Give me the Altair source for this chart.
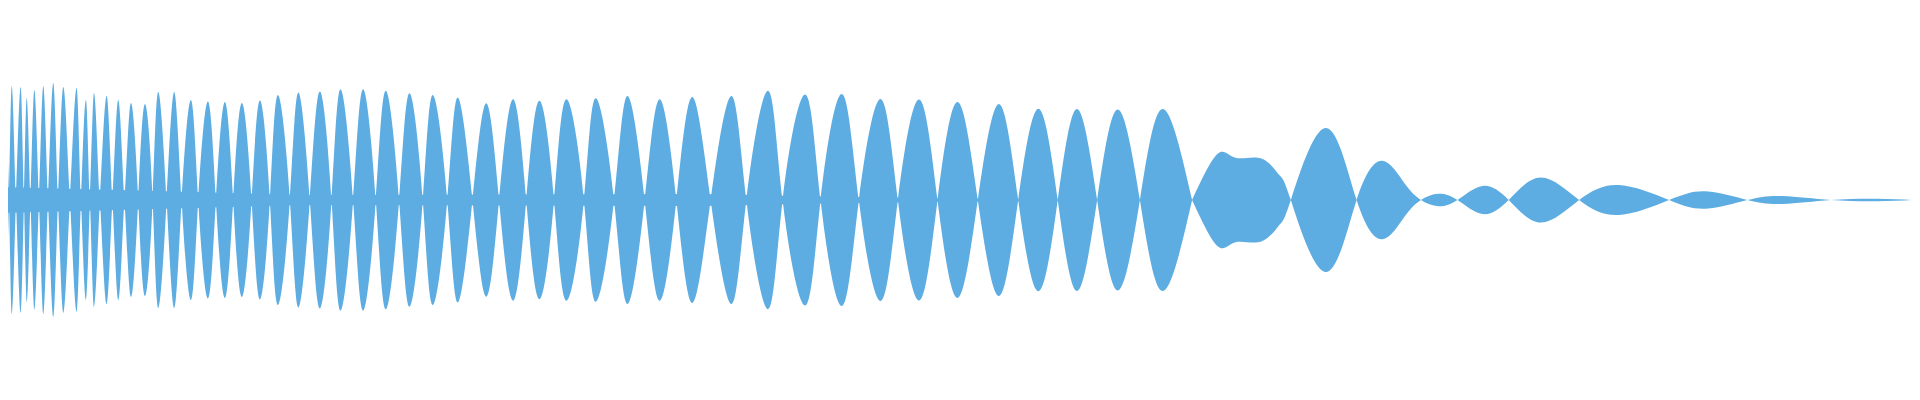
import altair as alt
import pandas as pd

# zero crossings of the envelope (time units)
neck_x = [0, 4, 9, 16, 24, 30.5, 39, 48, 58, 70, 81, 90, 100, 112.5, 124.5,
          138.3, 152.7, 166.7, 181.7, 198.3, 216, 233.3, 251.7, 270, 290, 310,
          331.7, 353.3, 376, 399.3, 423, 447.5, 472.7, 499.3, 526.5, 554.3,
          584.2, 614.3, 645, 676.7, 711, 746.7, 783, 821, 859.3, 898.3, 938,
          978.3, 1018.7, 1058.3, 1097.7, 1140.5, 1192.7, 1291.5, 1357.3,
          1421.7, 1458.3, 1509.5, 1580, 1670, 1748.3, 1832, 1913]

# one peak per lobe
peak_x = [2, 6, 11.7, 20.7, 26.7, 34.3, 43.3, 53.3, 63.3, 76.7, 86, 94, 106.7,
          118.3, 131, 145, 158.3, 174.3, 191, 208, 225, 242, 260, 278, 298.5,
          320, 340.7, 363.3, 386, 409.7, 433, 458, 486.5, 513.3, 539.7, 566.7,
          596, 627.8, 660, 692.5, 731.7, 768.3, 805.5, 842.2, 881, 919.5, 958,
          999.5, 1039, 1077.5, 1118.3, 1163.3, 1218, 1326, 1383, 1439, 1483.3,
          1541.7, 1620, 1706.7, 1783.3, 1878]
peak_amp = [72, 83, 114, 113, 102, 110, 114, 117, 113, 112, 100, 107, 104,
            100, 97, 96, 108, 108, 100, 98.5, 98, 97, 99.5, 105, 107.5,
            108.5, 110.7, 110.7, 109.3, 106.7, 105, 102.5, 96.7, 100.8, 99.2,
            100.7, 101.7, 104, 100.8, 103, 104, 109.2, 105.5, 106, 101, 100.5,
            98, 96, 91.2, 91, 90.5, 91, 46, 72, 39.2, 6.2, 14, 22.5, 15, 8.7,
            4, 1.2]

# extra shape points inside a few irregular lobes
extra_x = [1236, 1262, 1280, 1405]
extra_amp = [42.3, 41.5, 25, 17]

# residual band around the centre line
floor_x = [0, 120, 300, 700, 850, 1000, 1100, 1913]
floor_amp = [13, 10, 5, 6, 3, 1, 0, 0]

# section boundaries (dense start / regular lobes / decaying tail)
SPLIT_A = 138.3
SPLIT_B = 1192.7

rows = []
for i in range(len(peak_x)):
    sign = 1 if i % 2 == 0 else -1
    lo, hi = neck_x[i], neck_x[i + 1]
    rows.append((lo, 0.0))
    pts = [(peak_x[i], peak_amp[i])]
    pts += [(ex, ea) for ex, ea in zip(extra_x, extra_amp) if lo < ex < hi]
    for px, pa in sorted(pts):
        rows.append((px, sign * pa))
rows.append((neck_x[-1], 0.0))

env = pd.DataFrame(rows, columns=["t", "v"])
env["neg"] = -env["v"]

floor = pd.DataFrame({"t": floor_x, "v": floor_amp})
floor["neg"] = -floor["v"]

COLOR = "#5DADE2"
xs = alt.Scale(domain=[8, 1913], nice=False, zero=False)
ys = alt.Scale(domain=[-192, 192], nice=False)


def area(data, interp):
    return alt.Chart(data).mark_area(
        interpolate=interp, color=COLOR, clip=True, opacity=1
    ).encode(
        x=alt.X("t:Q", scale=xs, axis=None),
        y=alt.Y("v:Q", scale=ys, axis=None),
        y2=alt.Y2("neg"),
    )


dense = env[env["t"] <= SPLIT_A]
middle = env[(env["t"] >= SPLIT_A) & (env["t"] <= SPLIT_B)]
tail = env[env["t"] >= SPLIT_B]

chart = alt.layer(
    area(floor, "linear"),
    area(dense, "monotone"),
    area(middle, "natural"),
    area(tail, "natural"),
).properties(
    width=1905, height=384, padding=0,
    autosize=alt.AutoSizeParams(type="none"),
).configure_view(stroke=None)

chart.save("out.html", embed_options={"renderer": "svg", "actions": False})
